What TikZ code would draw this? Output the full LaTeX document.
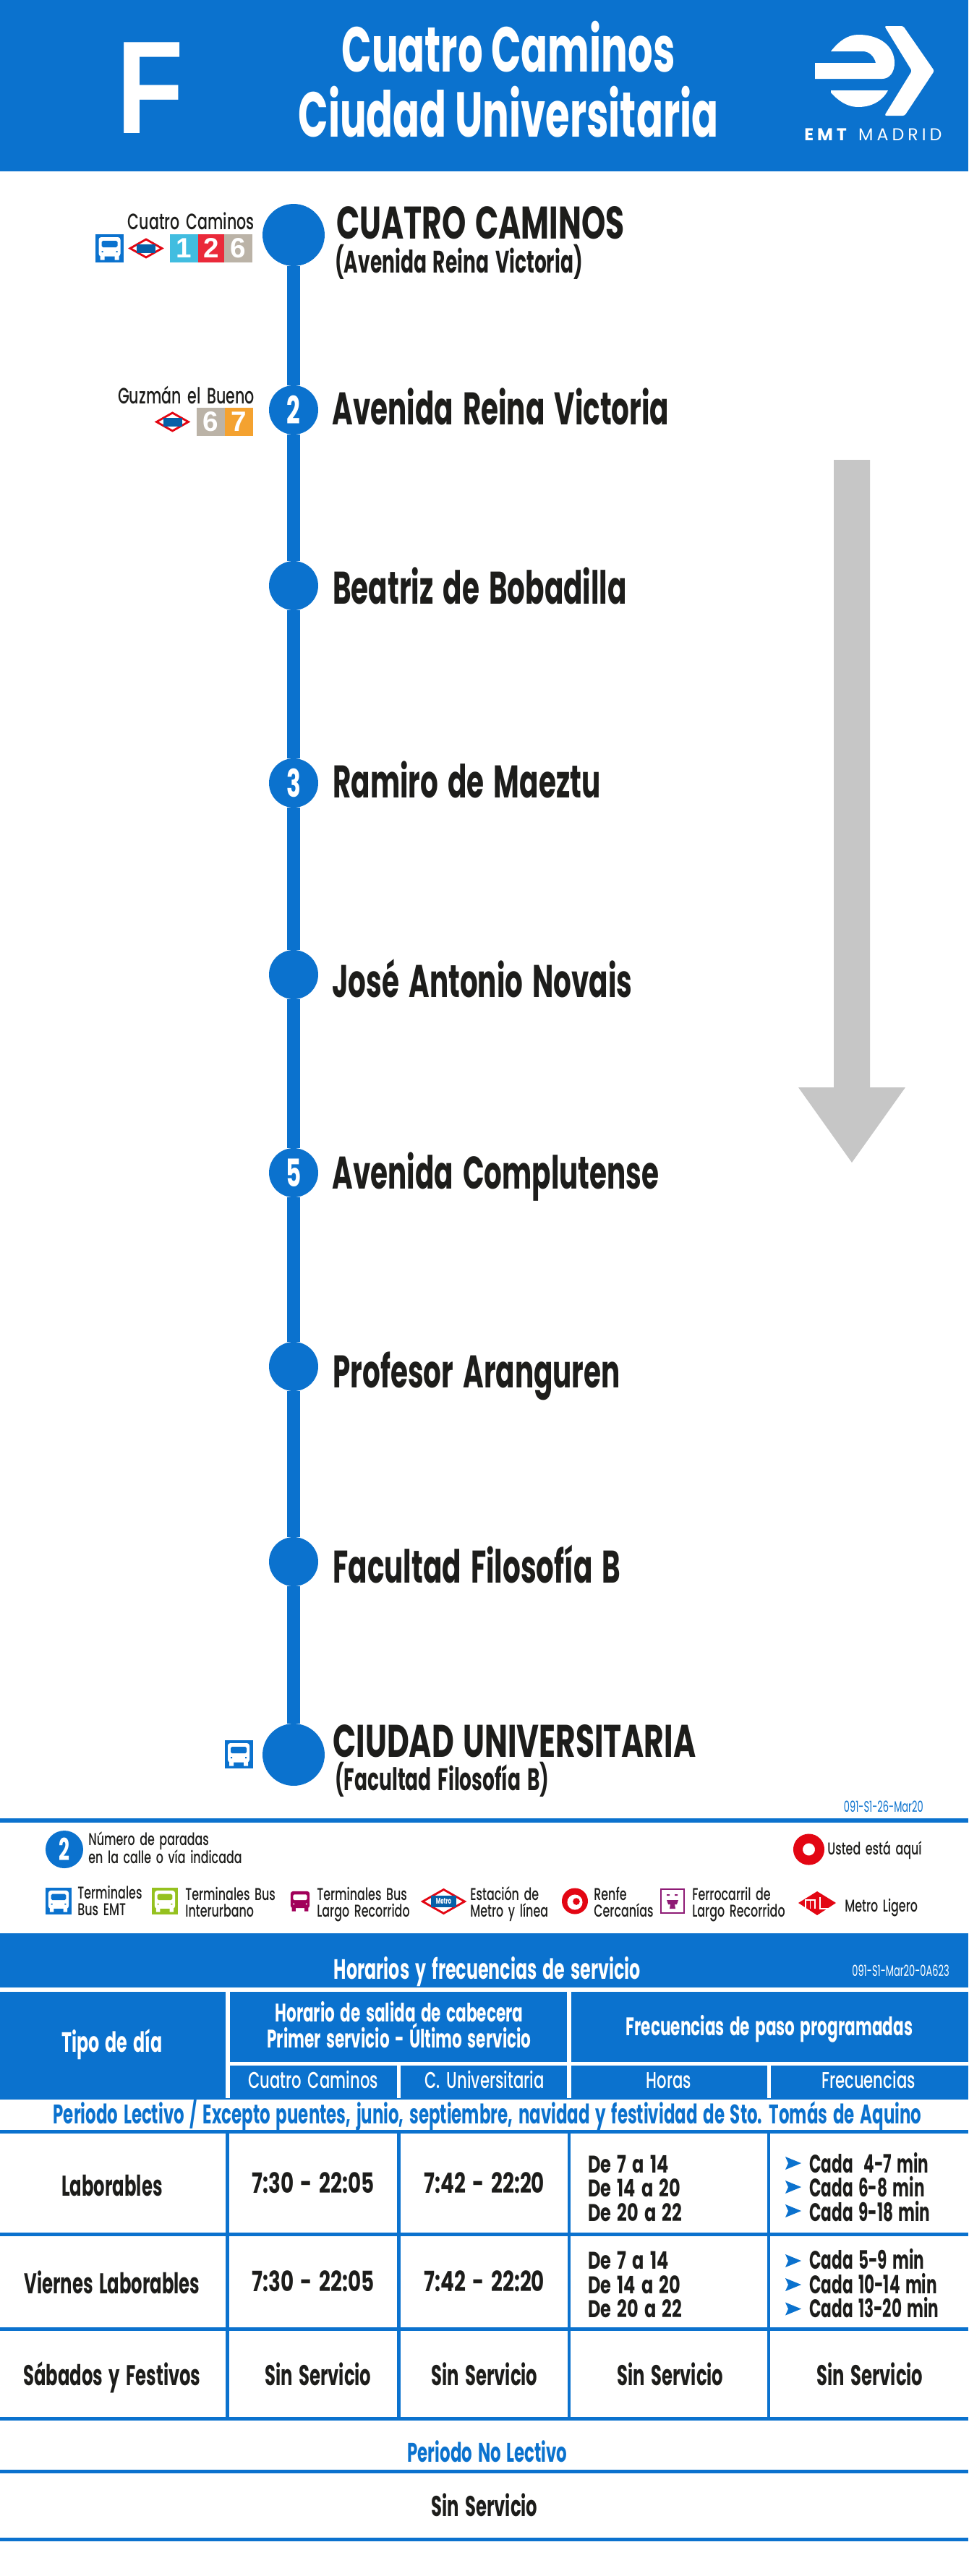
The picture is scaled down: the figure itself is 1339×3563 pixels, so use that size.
\documentclass[tikz,border=0pt]{standalone}
\usepackage{fontspec}
\newfontfamily\futura[FakeStretch=0.615,WordSpace=1.6]{Poppins}
\newfontfamily\futuratitle[FakeStretch=0.62]{Poppins}
\newfontfamily\futuracaps[FakeStretch=0.67,WordSpace=1.4]{Poppins}
\newfontfamily\futuradigit[FakeStretch=0.72,WordSpace=1.6]{Poppins}
\newfontfamily\futuramid[FakeStretch=0.67,WordSpace=1.6]{Poppins Medium}
\newfontfamily\logofont[LetterSpace=21]{Poppins}
\newfontfamily\chipfont{Liberation Sans}
\newfontfamily\letterfont[FakeStretch=0.83]{Liberation Sans}
\definecolor{emtblue}{HTML}{0B72CE}
\definecolor{ink}{HTML}{1D1D1B}
\definecolor{arrowgrey}{HTML}{C6C6C6}
\definecolor{metroblue}{HTML}{0560A8}
\definecolor{signred}{HTML}{E30613}
\definecolor{linecyan}{HTML}{41BDE0}
\definecolor{linered}{HTML}{EA2A3A}
\definecolor{linegrey}{HTML}{BBB3A7}
\definecolor{lineorange}{HTML}{F4A230}
\definecolor{urbangreen}{HTML}{95C11F}
\definecolor{longpurple}{HTML}{A1005A}
\definecolor{trainpurple}{HTML}{8E1B75}
\tikzset{
  pics/busicon/.style n args={3}{code={
    \fill[#1] (-19.5,-19.5) rectangle (19.5,19.5);
    \fill[#2,rounded corners=2pt] (-15,-15.5) rectangle (15,11);
    \fill[#2] (-13,10) rectangle (-7,16) (7,10) rectangle (13,16);
    \fill[#3,rounded corners=1pt] (-11,-10.5) rectangle (11,-1.5);
    \fill[#3] (-11,3.5) rectangle (-9,5.5) (9,3.5) rectangle (11,5.5);
  }},
  pics/metroicon/.style={code={
    \draw[signred,line width=1.6pt,fill=white] (-22,0) -- (0,-12.5) -- (22,0) -- (0,12.5) -- cycle;
    \fill[metroblue] (-13,-6) rectangle (13,6);
  }},
  pics/marca/.style={code={
    \fill[emtblue] (-11,-9) -- (11,0) -- (-11,9) -- (-7,0) -- cycle;
  }}
}
\begin{document}
\begin{tikzpicture}[x=0.02cm,y=-0.02cm]
  \tikzstyle{title}=[text=white,inner sep=0,anchor=base,font=\futuratitle\bfseries\fontsize{50}{50}\selectfont];
  \tikzstyle{stopbig}=[circle,fill=emtblue,inner sep=0,minimum size=48.9pt];
  \tikzstyle{stopsmall}=[circle,fill=emtblue,inner sep=0,minimum size=38.7pt,text=white,font=\futuratitle\bfseries\fontsize{30}{30}\selectfont];
  \tikzstyle{route}=[emtblue,line width=10.2pt];
  \tikzstyle{stopname}=[text=ink,inner sep=0,anchor=base west,font=\futura\bfseries\fontsize{36}{36}\selectfont];
  \tikzstyle{stopcaps}=[text=ink,inner sep=0,anchor=base west,font=\futuracaps\bfseries\fontsize{36}{36}\selectfont];
  \tikzstyle{stopnote}=[text=ink,inner sep=0,anchor=base west,font=\futura\bfseries\fontsize{24.5}{24.5}\selectfont];
  \tikzstyle{transfer}=[text=ink,inner sep=0,anchor=base east,font=\futuramid\fontsize{17.5}{17.5}\selectfont];
  \tikzstyle{chip}=[inner sep=0,text=white,minimum height=22.2pt,font=\chipfont\bfseries\fontsize{22}{22}\selectfont];
  \tikzstyle{legend}=[text=ink,inner sep=0,anchor=base west,font=\futuramid\fontsize{13.5}{13.5}\selectfont];
  \tikzstyle{code}=[inner sep=0,anchor=base east,font=\futura\fontsize{12}{12}\selectfont];
  \tikzstyle{band}=[fill=emtblue];
  \tikzstyle{rule}=[emtblue,line width=2.9pt];
  \tikzstyle{colrule}=[emtblue,line width=2.6pt];
  \tikzstyle{head}=[text=white,inner sep=0,anchor=base,font=\futura\bfseries\fontsize{20}{20}\selectfont];
  \tikzstyle{headbig}=[text=white,inner sep=0,anchor=base,font=\futura\bfseries\fontsize{22}{22}\selectfont];
  \tikzstyle{subhead}=[text=white,inner sep=0,anchor=base,font=\futuramid\fontsize{18}{18}\selectfont];
  \tikzstyle{period}=[text=emtblue,inner sep=0,anchor=base,font=\futura\bfseries\fontsize{21.2}{21.2}\selectfont];
  \tikzstyle{cell}=[text=ink,inner sep=0,anchor=base,font=\futura\bfseries\fontsize{22.5}{22.5}\selectfont];
  \tikzstyle{celltime}=[text=ink,inner sep=0,anchor=base,font=\futuradigit\bfseries\fontsize{22}{22}\selectfont];
  \tikzstyle{cellhour}=[text=ink,inner sep=0,anchor=base west,font=\futuradigit\bfseries\fontsize{19}{19}\selectfont];
  \tikzstyle{cellfreq}=[text=ink,inner sep=0,anchor=base west,font=\futura\bfseries\fontsize{20}{20}\selectfont];

  \useasboundingbox (0,0) rectangle (1339,3563);
  \fill[white] (0,0) rectangle (1339,3563);

  % header
  \fill[band] (0,0) rectangle (1339,237);
  \node[title,font=\letterfont\bfseries\fontsize{104}{104}\selectfont] (lineF) at (208,184) {F};
  \node[title] (from) at (703,99) {Cuatro Caminos};
  \node[title] (to) at (703,189) {Ciudad Universitaria};

  % logo
  \fill[white] (1149,71) .. controls (1160,57) and (1172,48) .. (1187,48) .. controls (1218,48) and (1237,65) .. (1237,87)
    .. controls (1237,100) and (1230,109) .. (1220,109) -- (1127,109) -- (1127,87) -- (1211,87)
    .. controls (1209,78) and (1202,71) .. (1193,71) -- cycle;
  \fill[white] (1149,125) -- (1228,125) .. controls (1220,140) and (1205,148) .. (1187,148) .. controls (1170,148) and (1158,138) .. (1149,128) -- cycle;
  \fill[white,rounded corners=1.5pt] (1223,36) -- (1249,36) -- (1292,98) -- (1251,160) -- (1223,160) -- (1261,98) -- cycle;
  \node[inner sep=0,text=white,anchor=base west,font=\logofont\fontsize{13.5}{13.5}\selectfont] (logotext) at (1112,194) {\textbf{EMT} MADRID};

  % stops
  \node[stopbig] (s1) at (406,325) {};
  \node[stopsmall] (s2) at (406,567) {2};
  \node[stopsmall] (s3) at (406,810) {};
  \node[stopsmall] (s4) at (406,1083) {3};
  \node[stopsmall] (s5) at (406,1348) {};
  \node[stopsmall] (s6) at (406,1622) {5};
  \node[stopsmall] (s7) at (406,1890) {};
  \node[stopsmall] (s8) at (406,2160) {};
  \node[stopbig] (s9) at (406,2427) {};

  % route
  \draw[route] (s1) -- (s2);
  \draw[route] (s2) -- (s3);
  \draw[route] (s3) -- (s4);
  \draw[route] (s4) -- (s5);
  \draw[route] (s5) -- (s6);
  \draw[route] (s6) -- (s7);
  \draw[route] (s7) -- (s8);
  \draw[route] (s8) -- (s9);

  % stop names
  \node[stopcaps] (n1) at (465,330) {CUATRO CAMINOS};
  \node[stopnote] (n1b) at (463,377) {(Avenida Reina Victoria)};
  \node[stopname] (n2) at (459,587) {Avenida Reina Victoria};
  \node[stopname] (n3) at (460,835) {Beatriz de Bobadilla};
  \node[stopname] (n4) at (460,1103) {Ramiro de Maeztu};
  \node[stopname] (n5) at (459,1379) {José Antonio Novais};
  \node[stopname] (n6) at (459,1644) {Avenida Complutense};
  \node[stopname] (n7) at (460,1919) {Profesor Aranguren};
  \node[stopname] (n8) at (460,2189) {Facultad Filosofía B};
  \node[stopcaps] (n9) at (460,2430) {CIUDAD UNIVERSITARIA};
  \node[stopnote] (n9b) at (463,2476) {(Facultad Filosofía B)};

  % transfers
  \node[transfer] (t1) at (352,317) {Cuatro Caminos};
  \pic (bus1) at (151.5,343.5) {busicon={emtblue}{white}{emtblue}};
  \pic (metro1) at (202,343.5) {metroicon};
  \node[chip,fill=linecyan,minimum width=22.2pt] (c1) at (254.5,343.5) {1};
  \node[chip,fill=linered,minimum width=20.5pt] (c2) at (292,343.5) {2};
  \node[chip,fill=linegrey,minimum width=22.2pt] (c3) at (329.5,343.5) {6};
  \node[transfer] (t2) at (352,558) {Guzmán el Bueno};
  \pic (metro2) at (238.5,583.5) {metroicon};
  \node[chip,fill=linegrey,minimum width=22.2pt] (c4) at (291.5,583.5) {6};
  \node[chip,fill=lineorange,minimum width=22.2pt] (c5) at (330.5,583.5) {7};
  \pic (bus9) at (330,2426.5) {busicon={emtblue}{white}{emtblue}};

  % direction arrow
  \fill[arrowgrey] (1153,636) -- (1203,636) -- (1203,1504) -- (1252,1504) -- (1178,1608) -- (1104,1504) -- (1153,1504) -- cycle;

  % legend
  \node[code,text=emtblue] (date) at (1277,2506) {091-S1-26-Mar20};
  \draw[rule] (0,2518) -- (1339,2518);
  \node[circle,fill=emtblue,inner sep=0,minimum size=29.6pt,text=white,font=\futuratitle\bfseries\fontsize{24}{24}\selectfont] (key2) at (89,2558) {2};
  \node[legend] (key2a) at (122,2552) {Número de paradas};
  \node[legend] (key2b) at (122,2577) {en la calle o vía indicada};
  \node[circle,draw=signred,line width=7.4pt,fill=white,inner sep=0,minimum size=17.1pt] (here) at (1118.5,2558) {};
  \node[legend] (heretext) at (1144,2565) {Usted está aquí};
  \pic[scale=.94] (k1) at (81,2629.5) {busicon={emtblue}{white}{emtblue}};
  \node[legend] (k1a) at (107,2626) {Terminales};
  \node[legend] (k1b) at (107,2649) {Bus EMT};
  \pic[scale=.94] (k2) at (228,2629.5) {busicon={urbangreen}{white}{urbangreen}};
  \node[legend] (k2a) at (256,2628) {Terminales Bus};
  \node[legend] (k2b) at (256,2651) {Interurbano};
  \pic[scale=.88] (k3) at (415,2629.5) {busicon={white}{longpurple}{white}};
  \node[legend] (k3a) at (438,2628) {Terminales Bus};
  \node[legend] (k3b) at (438,2651) {Largo Recorrido};
  \pic[scale=1.32] (k4) at (613.5,2630) {metroicon};
  \node[inner sep=0,text=white,font=\futuratitle\bfseries\fontsize{6.5}{6.5}\selectfont] (k4t) at (613.5,2630) {Metro};
  \node[legend] (k4a) at (650,2628) {Estación de};
  \node[legend] (k4b) at (650,2651) {Metro y línea};
  \node[circle,fill=signred,minimum size=20.5pt,inner sep=0] (k5) at (795,2629.5) {};
  \node[circle,fill=white,minimum size=12pt,inner sep=0] (k5i) at (795,2631) {};
  \node[circle,fill=signred,minimum size=5.5pt,inner sep=0] (k5c) at (797,2630) {};
  \node[legend] (k5a) at (821,2628) {Renfe};
  \node[legend] (k5b) at (821,2651) {Cercanías};
  \draw[trainpurple,line width=1.1pt] (914,2613) rectangle (946,2646);
  \fill[trainpurple] (922,2620) rectangle (926,2622) (933,2620) rectangle (937,2622);
  \fill[trainpurple] (922,2628) -- (938,2628) -- (936,2634) -- (933,2634) -- (934,2640) -- (926,2640) -- (927,2634) -- (924,2634) -- cycle;
  \node[legend] (k6a) at (957,2628) {Ferrocarril de};
  \node[legend] (k6b) at (957,2651) {Largo Recorrido};
  \fill[signred] (1104,2632) -- (1130,2616) -- (1156,2632) -- (1130,2649) -- cycle;
  \draw[white,line width=1pt] (1114,2640) -- (1114,2628) -- (1127,2628) -- (1127,2640) (1120.5,2628) -- (1120.5,2640) (1134,2624) -- (1134,2640) -- (1148,2640);
  \node[legend] (k7a) at (1168,2644) {Metro Ligero};

  % table head
  \fill[band] (0,2674) rectangle (1339,2749);
  \node[headbig] (ttitle) at (674,2737) {Horarios y frecuencias de servicio};
  \node[code,text=white] (tcode) at (1313,2733) {091-S1-Mar20-0A623};
  \fill[band] (0,2755) rectangle (312,2904);
  \fill[band] (318,2755) rectangle (784,2852);
  \fill[band] (790,2755) rectangle (1339,2852);
  \fill[band] (318,2857) rectangle (549,2904);
  \fill[band] (554,2857) rectangle (784,2904);
  \fill[band] (790,2857) rectangle (1061,2904);
  \fill[band] (1066,2857) rectangle (1339,2904);
  \fill[band] (0,2902) rectangle (1339,2904);
  \node[headbig] (hday) at (155,2838) {Tipo de día};
  \node[head] (hdep) at (552,2796) {Horario de salida de cabecera};
  \node[head] (hdep2) at (552,2832) {Primer servicio - Último servicio};
  \node[head] (hfreq) at (1064,2815) {Frecuencias de paso programadas};
  \node[subhead] (h1) at (433,2888) {Cuatro Caminos};
  \node[subhead] (h2) at (670,2888) {C. Universitaria};
  \node[subhead] (h3) at (925,2888) {Horas};
  \node[subhead] (h4) at (1201,2888) {Frecuencias};
  \node[period] (plect) at (674,2937) {Periodo Lectivo / Excepto puentes, junio, septiembre, navidad y festividad de Sto. Tomás de Aquino};

  % table rules
  \draw[rule] (0,2948.5) -- (1339,2948.5);
  \draw[rule] (0,3090.5) -- (1339,3090.5);
  \draw[rule] (0,3221.5) -- (1339,3221.5);
  \draw[rule] (0,3345.5) -- (1339,3345.5);
  \draw[rule] (0,3418.5) -- (1339,3418.5);
  \draw[rule] (0,3512.5) -- (1339,3512.5);
  \draw[colrule] (314.5,2951) -- (314.5,3343);
  \draw[colrule] (551.5,2951) -- (551.5,3343);
  \draw[colrule] (787,2951) -- (787,3343);
  \draw[colrule] (1063,2951) -- (1063,3343);

  % laborables
  \node[cell] (r1) at (155,3037) {Laborables};
  \node[celltime] (r1a) at (433,3033) {7:30 - 22:05};
  \node[celltime] (r1b) at (670,3033) {7:42 - 22:20};
  \node[cellhour] (r1c) at (813,3005) {De 7 a 14};
  \node[cellhour] (r1d) at (813,3038) {De 14 a 20};
  \node[cellhour] (r1e) at (813,3072) {De 20 a 22};
  \pic (m1) at (1097,2992) {marca};
  \pic (m2) at (1097,3025) {marca};
  \pic (m3) at (1097,3058) {marca};
  \node[cellfreq] (r1f) at (1119,3005) {Cada\ \ 4-7 min};
  \node[cellfreq] (r1g) at (1119,3038) {Cada 6-8 min};
  \node[cellfreq] (r1h) at (1119,3072) {Cada 9-18 min};

  % viernes
  \node[cell] (r2) at (155,3172) {Viernes Laborables};
  \node[celltime] (r2a) at (433,3169) {7:30 - 22:05};
  \node[celltime] (r2b) at (670,3169) {7:42 - 22:20};
  \node[cellhour] (r2c) at (813,3138) {De 7 a 14};
  \node[cellhour] (r2d) at (813,3172) {De 14 a 20};
  \node[cellhour] (r2e) at (813,3205) {De 20 a 22};
  \pic (m4) at (1097,3127) {marca};
  \pic (m5) at (1097,3160) {marca};
  \pic (m6) at (1097,3193.5) {marca};
  \node[cellfreq] (r2f) at (1119,3138) {Cada 5-9 min};
  \node[cellfreq] (r2g) at (1119,3172) {Cada 10-14 min};
  \node[cellfreq] (r2h) at (1119,3205) {Cada 13-20 min};

  % sabados
  \node[cell] (r3) at (155,3299) {Sábados y Festivos};
  \node[cell] (r3a) at (440,3299) {Sin Servicio};
  \node[cell] (r3b) at (670,3299) {Sin Servicio};
  \node[cell] (r3c) at (927,3299) {Sin Servicio};
  \node[cell] (r3d) at (1203,3299) {Sin Servicio};

  % no lectivo
  \node[period] (pnolect) at (674,3405) {Periodo No Lectivo};
  \node[cell] (r4) at (670,3480) {Sin Servicio};
\end{tikzpicture}
\end{document}
